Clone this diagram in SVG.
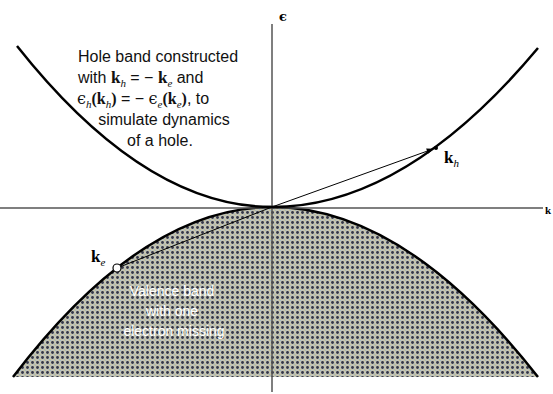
<svg xmlns="http://www.w3.org/2000/svg" width="553" height="394" viewBox="0 0 553 394">
<defs>
<pattern id="dots" width="5" height="5" patternUnits="userSpaceOnUse">
<rect width="5" height="5" fill="#c2c4b4"/>
<circle cx="2.5" cy="2.5" r="1.4" fill="#343648"/>
<circle cx="0" cy="0" r="0.9" fill="#8fb0d0"/>
<circle cx="5" cy="5" r="0.9" fill="#8fb0d0"/>
<circle cx="5" cy="0" r="0.9" fill="#dcc080"/>
<circle cx="0" cy="5" r="0.9" fill="#dcc080"/>
</pattern>
<marker id="arr" viewBox="0 0 10 10" refX="9" refY="5" markerWidth="9" markerHeight="7" markerUnits="userSpaceOnUse" orient="auto">
<path d="M0,1 L10,5 L0,9 Z" fill="#000"/>
</marker>
<style>
.band{fill:none;stroke:#000;stroke-width:2.5}
.axis{stroke:#555;stroke-width:1.5;fill:none}
.lbl{font-family:"Liberation Sans",Arial,sans-serif;font-size:16px;fill:#111}
.ser{font-family:"Liberation Serif","DejaVu Serif",serif;font-weight:bold}
.sub{font-family:"Liberation Serif","DejaVu Serif",serif;font-style:italic;font-size:11px}
.eps{font-family:"DejaVu Serif",serif}
.val{font-family:"Liberation Sans",Arial,sans-serif;font-size:14px;fill:#fff;text-anchor:middle}
</style>
</defs>
<g id="valence-band">
<path d="M13,377 Q142.5,207 272,207 Q405,207 538,377 Z" fill="url(#dots)"/>
<path class="band" d="M13,377 Q142.5,207 272,207 Q405,207 538,377"/>
<text class="val" x="172" y="296">Valence band</text>
<text class="val" x="172" y="316">with one</text>
<text class="val" x="174" y="336">electron missing</text>
</g>
<g id="axes">
<line class="axis" x1="272" y1="24" x2="272" y2="392"/>
<line class="axis" x1="0" y1="208" x2="543" y2="208"/>
<text x="283" y="21" class="eps" font-size="13" font-weight="bold" text-anchor="middle">ϵ</text>
<text x="545" y="214" class="ser" font-size="11">k</text>
</g>
<g id="hole-band">
<path class="band" d="M17,46 Q144.5,207 272,207 Q405,207 538,48"/>
</g>
<g id="connectors">
<line x1="117" y1="268" x2="272" y2="207" stroke="#000" stroke-width="1"/>
<line x1="272" y1="207" x2="433" y2="149" stroke="#000" stroke-width="1" marker-end="url(#arr)"/>
</g>
<g id="ke">
<circle cx="117" cy="268" r="4" fill="#fff" stroke="#000" stroke-width="1.2"/>
<text x="91" y="262" class="ser" font-size="17">k<tspan class="sub" font-weight="normal" dy="4">e</tspan></text>
</g>
<g id="kh">
<circle cx="436" cy="148" r="2" fill="#000"/>
<text x="444" y="163" class="ser" font-size="17">k<tspan class="sub" font-weight="normal" dy="4">h</tspan></text>
</g>
<g id="note">
<text class="lbl" x="78" y="62">Hole band constructed</text>
<text class="lbl" x="78" y="83">with <tspan class="ser" font-size="17">k</tspan><tspan class="sub" dy="4">h</tspan><tspan dy="-4"> = − </tspan><tspan class="ser" font-size="17">k</tspan><tspan class="sub" dy="4">e</tspan><tspan dy="-4"> and</tspan></text>
<text class="lbl" x="77" y="104"><tspan class="eps">ϵ</tspan><tspan class="sub" dy="4">h</tspan><tspan class="ser" dy="-4">(k</tspan><tspan class="sub" dy="4">h</tspan><tspan class="ser" dy="-4">)</tspan> = − <tspan class="eps">ϵ</tspan><tspan class="sub" dy="4">e</tspan><tspan class="ser" dy="-4">(k</tspan><tspan class="sub" dy="4">e</tspan><tspan class="ser" dy="-4">)</tspan>, to</text>
<text class="lbl" x="164" y="125" text-anchor="middle">simulate dynamics</text>
<text class="lbl" x="160" y="146" text-anchor="middle">of a hole.</text>
</g>
</svg>
